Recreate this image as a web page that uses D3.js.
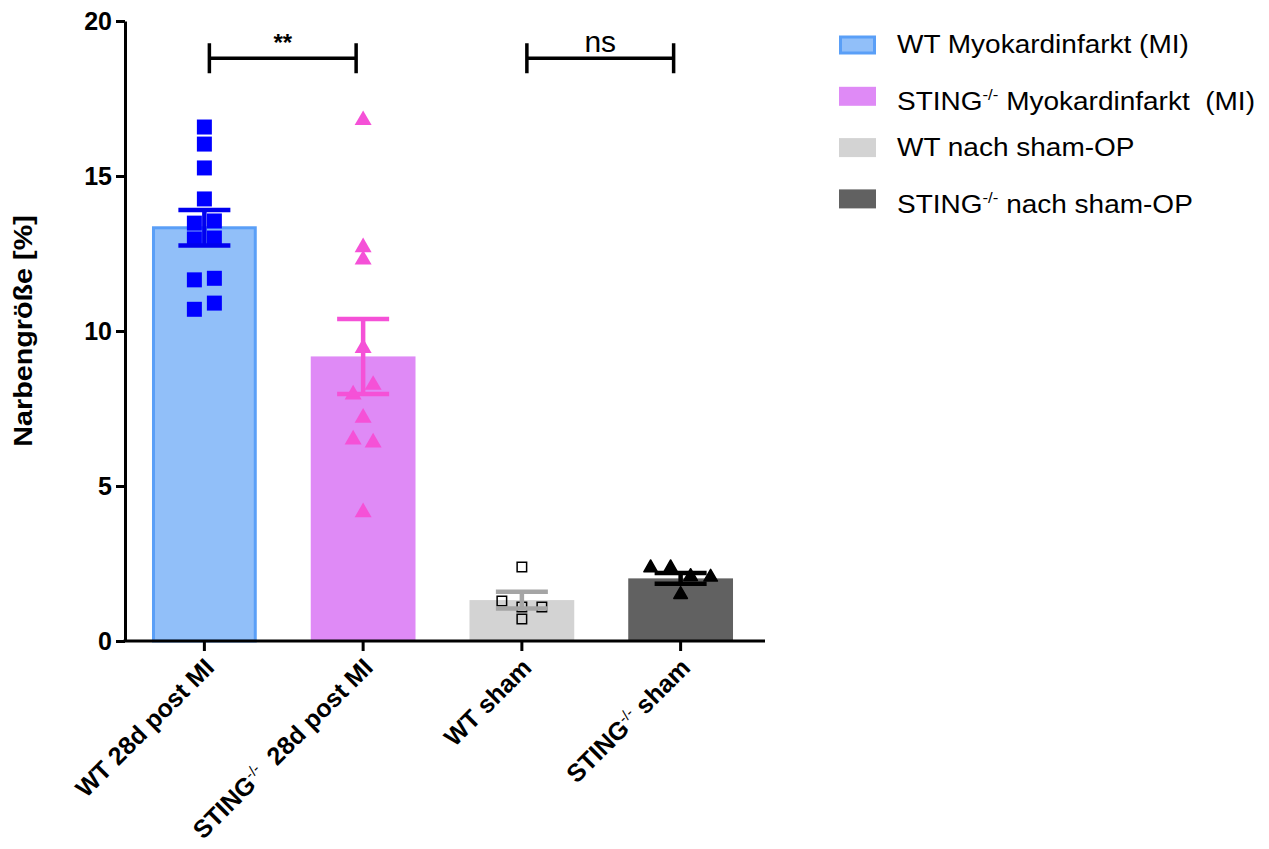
<!DOCTYPE html>
<html lang="de">
<head>
    <meta charset="UTF-8">
    <title>Narbengröße</title>
    <script src="https://cdn.jsdelivr.net/npm/d3@7"></script>
    <style>
        html, body {
            margin: 0;
            padding: 0;
            background: white;
        }

        svg text {
            font-family: "Liberation Sans", Arial, sans-serif;
        }
    </style>
</head>
<body>
<script>
    // groups on the x axis: [text, superscript, text after]
    let categories = [
        ["WT 28d post MI", "", ""],
        ["STING", "-/-", "  28d post MI"],
        ["WT sham", "", ""],
        ["STING", "-/-", " sham"]
    ];
    let means = [13.33, 9.18, 1.32, 2.02];
    let sems = [0.57, 1.21, 0.27, 0.17];

    // single animals per group
    let wtMI = [16.58, 16.03, 15.26, 14.26, 13.48, 13.55, 12.97, 13.0, 11.65, 11.7, 10.7, 10.9];
    let stingMI = [16.8, 12.7, 12.3, 9.45, 7.95, 8.26, 7.2, 6.5, 6.4, 4.15];
    let wtSham = [2.39, 1.29, 1.1, 1.1, 0.71];
    let stingSham = [2.36, 2.36, 2.08, 2.06, 1.5];

    let yTicks = [0, 5, 10, 15, 20];
    let sigPairs = [[0, 1, "**"], [2, 3, "ns"]];
    let legendLabels = [
        ["WT Myokardinfarkt (MI)", "", ""],
        ["STING", "-/-", " Myokardinfarkt  (MI)"],
        ["WT nach sham-OP", "", ""],
        ["STING", "-/-", " nach sham-OP"]
    ];

    let barFill = ["#91bff9", "#df8af6", "#d3d3d3", "#616161"];
    let dotColor = ["#0000ff", "#f551d7", "#000000", "#000000"];
    let errColor = ["#0000ee", "#f551d7", "#a5a5a5", "#000000"];

    let svg = d3.select("body").append("svg")
        .attr("width", 1269)
        .attr("height", 849);

    let x = d3.scaleBand()
        .domain(d3.range(categories.length))
        .range([125, 760])
        .paddingInner(0.34)
        .paddingOuter(0.17);

    let y = d3.scaleLinear()
        .domain([0, 20])
        .range([641, 21]);

    let bw = x.bandwidth();
    let cx = function (i) {
        return x(i) + bw / 2;
    };

    // bars
    svg.selectAll("rect.bar")
        .data(means)
        .enter()
        .append("rect")
        .attr("class", "bar")
        .attr("x", (d, i) => i === 0 ? x(i) + 1.5 : x(i))
        .attr("width", (d, i) => i === 0 ? bw - 3 : bw)
        .attr("y", d => y(d))
        .attr("height", d => y(0) - y(d))
        .style("fill", (d, i) => barFill[i])
        .style("stroke", (d, i) => i === 0 ? "#5a9ff7" : "none")
        .style("stroke-width", 3);

    // spread points that sit at nearly the same height side by side
    function spread(vals, center) {
        let order = d3.range(vals.length).sort((a, b) => vals[b] - vals[a]);
        let groups = [];
        order.forEach(function (k) {
            let g = groups[groups.length - 1];
            if (g && Math.abs(y(vals[g[g.length - 1]]) - y(vals[k])) < 10) g.push(k);
            else groups.push([k]);
        });
        let out = [];
        groups.forEach(function (g) {
            g.sort((a, b) => a - b);
            g.forEach(function (k, j) {
                out.push({v: vals[k], x: center + (j - (g.length - 1) / 2) * 20});
            });
        });
        return out;
    }

    let sq = d3.symbol().type(d3.symbolSquare);
    let tri = d3.symbol().type(d3.symbolTriangle);

    let groupsData = [wtMI, stingMI, wtSham, stingSham];
    groupsData.forEach(function (vals, i) {
        let pts = spread(vals, cx(i));
        let sel = svg.append("g").attr("class", "dots").selectAll("path")
            .data(pts)
            .enter()
            .append("path")
            .attr("transform", d => "translate(" + d.x + "," + y(d.v) + ")");
        if (i === 0) {
            sel.attr("d", sq.size(225)()).style("fill", dotColor[i]);
        } else if (i === 1) {
            sel.attr("d", tri.size(125)()).style("fill", dotColor[i]);
        } else if (i === 2) {
            sel.attr("d", sq.size(90)())
                .style("fill", "none")
                .style("stroke", dotColor[i])
                .style("stroke-width", 1.5);
        } else {
            sel.attr("d", tri.size(80)())
                .style("fill", dotColor[i])
                .style("stroke", "black")
                .style("stroke-width", 1.5)
                .style("stroke-linejoin", "round");
        }
    });

    // error bars (mean +/- SEM)
    let eb = svg.selectAll("g.err")
        .data(means)
        .enter()
        .append("g")
        .attr("class", "err")
        .style("stroke", (d, i) => errColor[i])
        .style("stroke-width", 4.5);

    eb.append("line")
        .attr("x1", (d, i) => cx(i)).attr("x2", (d, i) => cx(i))
        .attr("y1", (d, i) => y(d + sems[i])).attr("y2", (d, i) => y(d - sems[i]));
    eb.append("line")
        .attr("x1", (d, i) => cx(i) - 26).attr("x2", (d, i) => cx(i) + 26)
        .attr("y1", (d, i) => y(d + sems[i])).attr("y2", (d, i) => y(d + sems[i]));
    eb.append("line")
        .attr("x1", (d, i) => cx(i) - 26).attr("x2", (d, i) => cx(i) + 26)
        .attr("y1", (d, i) => y(d - sems[i])).attr("y2", (d, i) => y(d - sems[i]));

    // axes
    let yAxis = svg.append("g")
        .attr("transform", "translate(125,0)")
        .call(d3.axisLeft(y).tickValues(yTicks).tickSize(9).tickSizeOuter(0).tickPadding(4));

    let xAxis = svg.append("g")
        .attr("transform", "translate(0,641)")
        .call(d3.axisBottom(x).tickSize(10).tickSizeOuter(0).tickFormat(""));
    xAxis.select(".domain").attr("d", "M123.5,0H765");

    svg.selectAll(".domain, .tick line")
        .style("stroke", "black")
        .style("stroke-width", 3);

    yAxis.selectAll(".tick text")
        .style("font-size", "25px")
        .style("font-weight", "bold")
        .style("fill", "black")
        .attr("font-family", null);

    // rotated category labels
    categories.forEach(function (c, i) {
        let t = svg.append("text")
            .attr("transform", "translate(" + (cx(i) + 5) + ",663) rotate(-45)")
            .attr("text-anchor", "end")
            .attr("dy", "0.35em")
            .style("font-size", "25px")
            .style("font-weight", "bold")
            .style("white-space", "pre");
        t.append("tspan").text(c[0]);
        if (c[1]) {
            t.append("tspan").text(c[1])
                .attr("dy", -9)
                .style("font-size", "15px")
                .style("font-weight", "normal");
            t.append("tspan").text(c[2]).attr("dy", 9);
        }
    });

    svg.append("text")
        .attr("transform", "translate(32,331) rotate(-90) scale(1.15,1)")
        .attr("text-anchor", "middle")
        .style("font-size", "25px")
        .style("font-weight", "bold")
        .text("Narbengröße [%]");

    // significance brackets
    let sig = svg.selectAll("g.sig")
        .data(sigPairs)
        .enter()
        .append("g")
        .attr("class", "sig");
    let by = y(18.8);
    sig.append("path")
        .attr("d", d => "M" + (cx(d[0]) + 5) + "," + (by - 15) + "V" + (by + 15) +
            "M" + (cx(d[0]) + 5) + "," + by + "H" + (cx(d[1]) - 7) +
            "M" + (cx(d[1]) - 7) + "," + (by - 15) + "V" + (by + 15))
        .style("fill", "none")
        .style("stroke", "black")
        .style("stroke-width", 3.5);
    sig.append("text")
        .attr("x", d => (cx(d[0]) + cx(d[1])) / 2 - 1)
        .attr("y", d => d[2] === "ns" ? by - 6 : by - 7)
        .attr("text-anchor", "middle")
        .style("font-size", d => d[2] === "ns" ? "30px" : "24px")
        .style("font-weight", d => d[2] === "ns" ? "normal" : "bold")
        .text(d => d[2]);

    // legend
    let lg = svg.selectAll("g.legend")
        .data(legendLabels)
        .enter()
        .append("g")
        .attr("class", "legend")
        .attr("transform", (d, i) => "translate(839," + (45 + i * 51.3) + ")");
    lg.append("rect")
        .attr("x", (d, i) => i === 0 ? 1.5 : 0)
        .attr("y", (d, i) => i === 0 ? -8 : -9.5)
        .attr("width", (d, i) => i === 0 ? 34 : 37)
        .attr("height", (d, i) => i === 0 ? 16 : 19)
        .style("fill", (d, i) => barFill[i])
        .style("stroke", (d, i) => i === 0 ? "#5a9ff7" : "none")
        .style("stroke-width", 3);
    let lt = lg.append("text")
        .attr("transform", d => "translate(58," + (d[1] ? 14 : 8) + ") scale(1.12,1)")
        .style("font-size", "25px")
        .style("white-space", "pre");
    lt.append("tspan").text(d => d[0]);
    lt.filter(d => d[1]).append("tspan").text(d => d[1])
        .attr("dy", -10)
        .style("font-size", "15px");
    lt.filter(d => d[1]).append("tspan").text(d => d[2])
        .attr("dy", 10);
</script>
</body>
</html>
